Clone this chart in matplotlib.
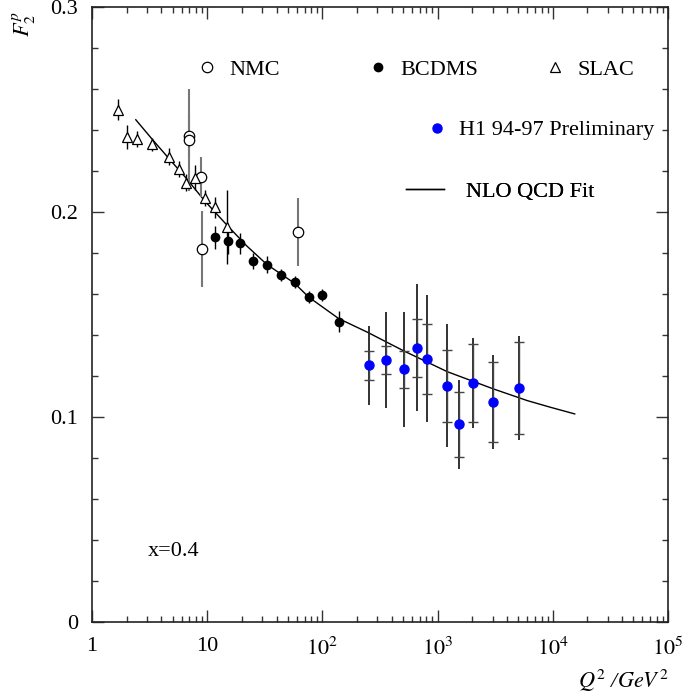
import matplotlib
matplotlib.use("Agg")
import matplotlib.pyplot as plt
import numpy as np
from matplotlib.lines import Line2D
from matplotlib.ticker import LogLocator, MultipleLocator, FixedLocator, NullFormatter

plt.rcParams["font.family"] = ["Liberation Serif", "DejaVu Serif"]
plt.rcParams["mathtext.fontset"] = "stix"

# --- Data (x = 0.4) ---
# SLAC (open triangles)
slac_q2 = [1.68, 2.03, 2.45, 3.34, 4.70, 5.67, 6.57, 7.87, 9.48, 11.6, 14.9]
slac_f2 = [0.250, 0.2366, 0.2355, 0.233, 0.227, 0.221, 0.2143, 0.2167, 0.2067, 0.2023, 0.1925]
slac_err = [0.005, 0.006, 0.004, 0.003, 0.004, 0.004, 0.004, 0.006, 0.004, 0.005, 0.018]

# NMC (open circles)
nmc_q2 = [6.97, 6.97, 8.87, 9.05, 61.8]
nmc_f2 = [0.2372, 0.2351, 0.2171, 0.1821, 0.1902]
nmc_err = [0.0105, 0.025, 0.0098, 0.0185, 0.0167]

# BCDMS (filled circles)
bcdms_q2 = [11.8, 15.1, 19.1, 24.8, 32.8, 43.4, 57.4, 76.0, 100.0, 138.6]
bcdms_f2 = [0.1877, 0.1857, 0.1847, 0.1761, 0.1743, 0.1691, 0.1660, 0.1585, 0.1594, 0.1465]
bcdms_err = [0.0057, 0.006, 0.005, 0.004, 0.004, 0.003, 0.003, 0.003, 0.003, 0.005]

# H1 94-97 preliminary (blue): stat and total errors
h1_q2 = [253, 355, 506, 657, 807, 1214, 1534, 2028, 3050, 5094]
h1_f2 = [0.1252, 0.1278, 0.1233, 0.1337, 0.1284, 0.1153, 0.0964, 0.1167, 0.1072, 0.1140]
h1_stat = [0.0071, 0.0070, 0.0091, 0.0140, 0.0172, 0.0176, 0.0160, 0.0190, 0.0196, 0.0224]
h1_tot = [0.0193, 0.0232, 0.0280, 0.0310, 0.0310, 0.0300, 0.0217, 0.0220, 0.0230, 0.0254]

# NLO QCD fit curve
fit_q2 = [2.4, 3.34, 4.7, 6.57, 9.48, 14.9, 22.0, 32.8, 57.4, 76.0, 138.6,
          245, 506, 1214, 3050, 6000, 9600, 15500]
fit_f2 = [0.245, 0.2354, 0.2258, 0.2165, 0.2055, 0.1935, 0.1835, 0.1745, 0.1652, 0.1585, 0.148,
          0.1414, 0.1323, 0.1221, 0.1137, 0.108, 0.1047, 0.1015]

x_ticks = [1, 10, 1e2, 1e3, 1e4, 1e5]
x_ticklabels = ["1", "10", "$10^{2}$", "$10^{3}$", "$10^{4}$", "$10^{5}$"]
y_ticks = [0, 0.1, 0.2, 0.3]
y_ticklabels = ["0", "0.1", "0.2", "0.3"]

# --- Plot ---
fig = plt.figure(figsize=(6.91, 7.0), dpi=100)
ax = fig.add_axes([92 / 691, 1 - 622 / 700, 576 / 691, 615 / 700])

ax.plot(fit_q2, fit_f2, color="black", lw=1.0, zorder=2)

ax.errorbar(nmc_q2, nmc_f2, yerr=nmc_err, fmt="none", ecolor="#777777", elinewidth=1.5, zorder=3)
ax.errorbar(slac_q2, slac_f2, yerr=slac_err, fmt="none", ecolor="black", elinewidth=1.0, zorder=3)
ax.errorbar(bcdms_q2, bcdms_f2, yerr=bcdms_err, fmt="none", ecolor="black", elinewidth=1.0, zorder=3)
ax.errorbar(h1_q2, h1_f2, yerr=h1_tot, fmt="none", ecolor="#222222", elinewidth=1.3, zorder=3)
ax.errorbar(h1_q2, h1_f2, yerr=h1_stat, fmt="none", ecolor="#444444", elinewidth=1.0,
            capsize=3.5, capthick=1.0, zorder=3)

ax.plot(nmc_q2, nmc_f2, "o", ms=7.5, mfc="white", mec="black", mew=0.9, ls="none", zorder=4)
ax.plot(slac_q2, slac_f2, "^", ms=6.5, mfc="white", mec="black", mew=0.9, ls="none", zorder=4)
ax.plot(bcdms_q2, bcdms_f2, "o", ms=6, color="black", ls="none", zorder=4)
ax.plot(h1_q2, h1_f2, "o", ms=6.5, color="#0000ff", ls="none", zorder=4)

ax.set_xscale("log")
ax.set_xlim(1, 1e5)
ax.set_ylim(0, 0.3)

ax.xaxis.set_major_locator(FixedLocator(x_ticks))
ax.set_xticklabels(x_ticklabels)
ax.xaxis.set_minor_locator(LogLocator(base=10, subs=np.arange(2, 10)))
ax.xaxis.set_minor_formatter(NullFormatter())
ax.yaxis.set_major_locator(FixedLocator(y_ticks))
ax.set_yticklabels(y_ticklabels)
ax.yaxis.set_minor_locator(MultipleLocator(0.02))

ax.tick_params(which="both", direction="in", top=True, right=True, labelsize=16, colors="#333333",
               labelcolor="black")
ax.tick_params(which="major", length=8.5, width=1.0)
ax.tick_params(which="minor", length=4.3, width=1.0)
ax.tick_params(axis="x", pad=11)
ax.tick_params(axis="y", pad=10)
for s in ax.spines.values():
    s.set_linewidth(1.2)
    s.set_color("#222222")

# legend keys
fs = 16
def key(handle, label, x, y, hl=1.0, pad=0.5):
    lg = ax.legend([handle], [label], loc="center left", bbox_to_anchor=(x, y), frameon=False,
                   fontsize=fs, handlelength=hl, handletextpad=pad, borderpad=0, borderaxespad=0)
    ax.add_artist(lg)

key(Line2D([], [], marker="o", ms=7.5, mfc="white", mec="black", mew=0.9, ls="none"), "NMC", 0.1806, 0.8976)
key(Line2D([], [], marker="o", ms=6, color="black", ls="none"), "BCDMS", 0.4774, 0.8976)
key(Line2D([], [], marker="^", ms=6.5, mfc="white", mec="black", mew=0.9, ls="none"), "SLAC", 0.7847, 0.8976)
key(Line2D([], [], marker="o", ms=6.5, color="#0000ff", ls="none"), "H1 94-97 Preliminary", 0.5799, 0.8000)
key(Line2D([], [], color="black", lw=1.0), "NLO QCD Fit", 0.5451, 0.6992, hl=1.7, pad=1.0)

ax.text((148 - 92) / 576, (622 - 551) / 615, "x=0.4", transform=ax.transAxes, fontsize=16,
        ha="left", va="center")

fig.text(24 / 691, 1 - 24 / 700, "$F_2^p$", rotation=90, fontsize=16, ha="center", va="center")
fig.text(668 / 691, 1 - 681 / 700, "$Q^2$ /$GeV^2$", fontsize=16, ha="right", va="center",
         style="italic")

fig.savefig("out.png", dpi=100)
